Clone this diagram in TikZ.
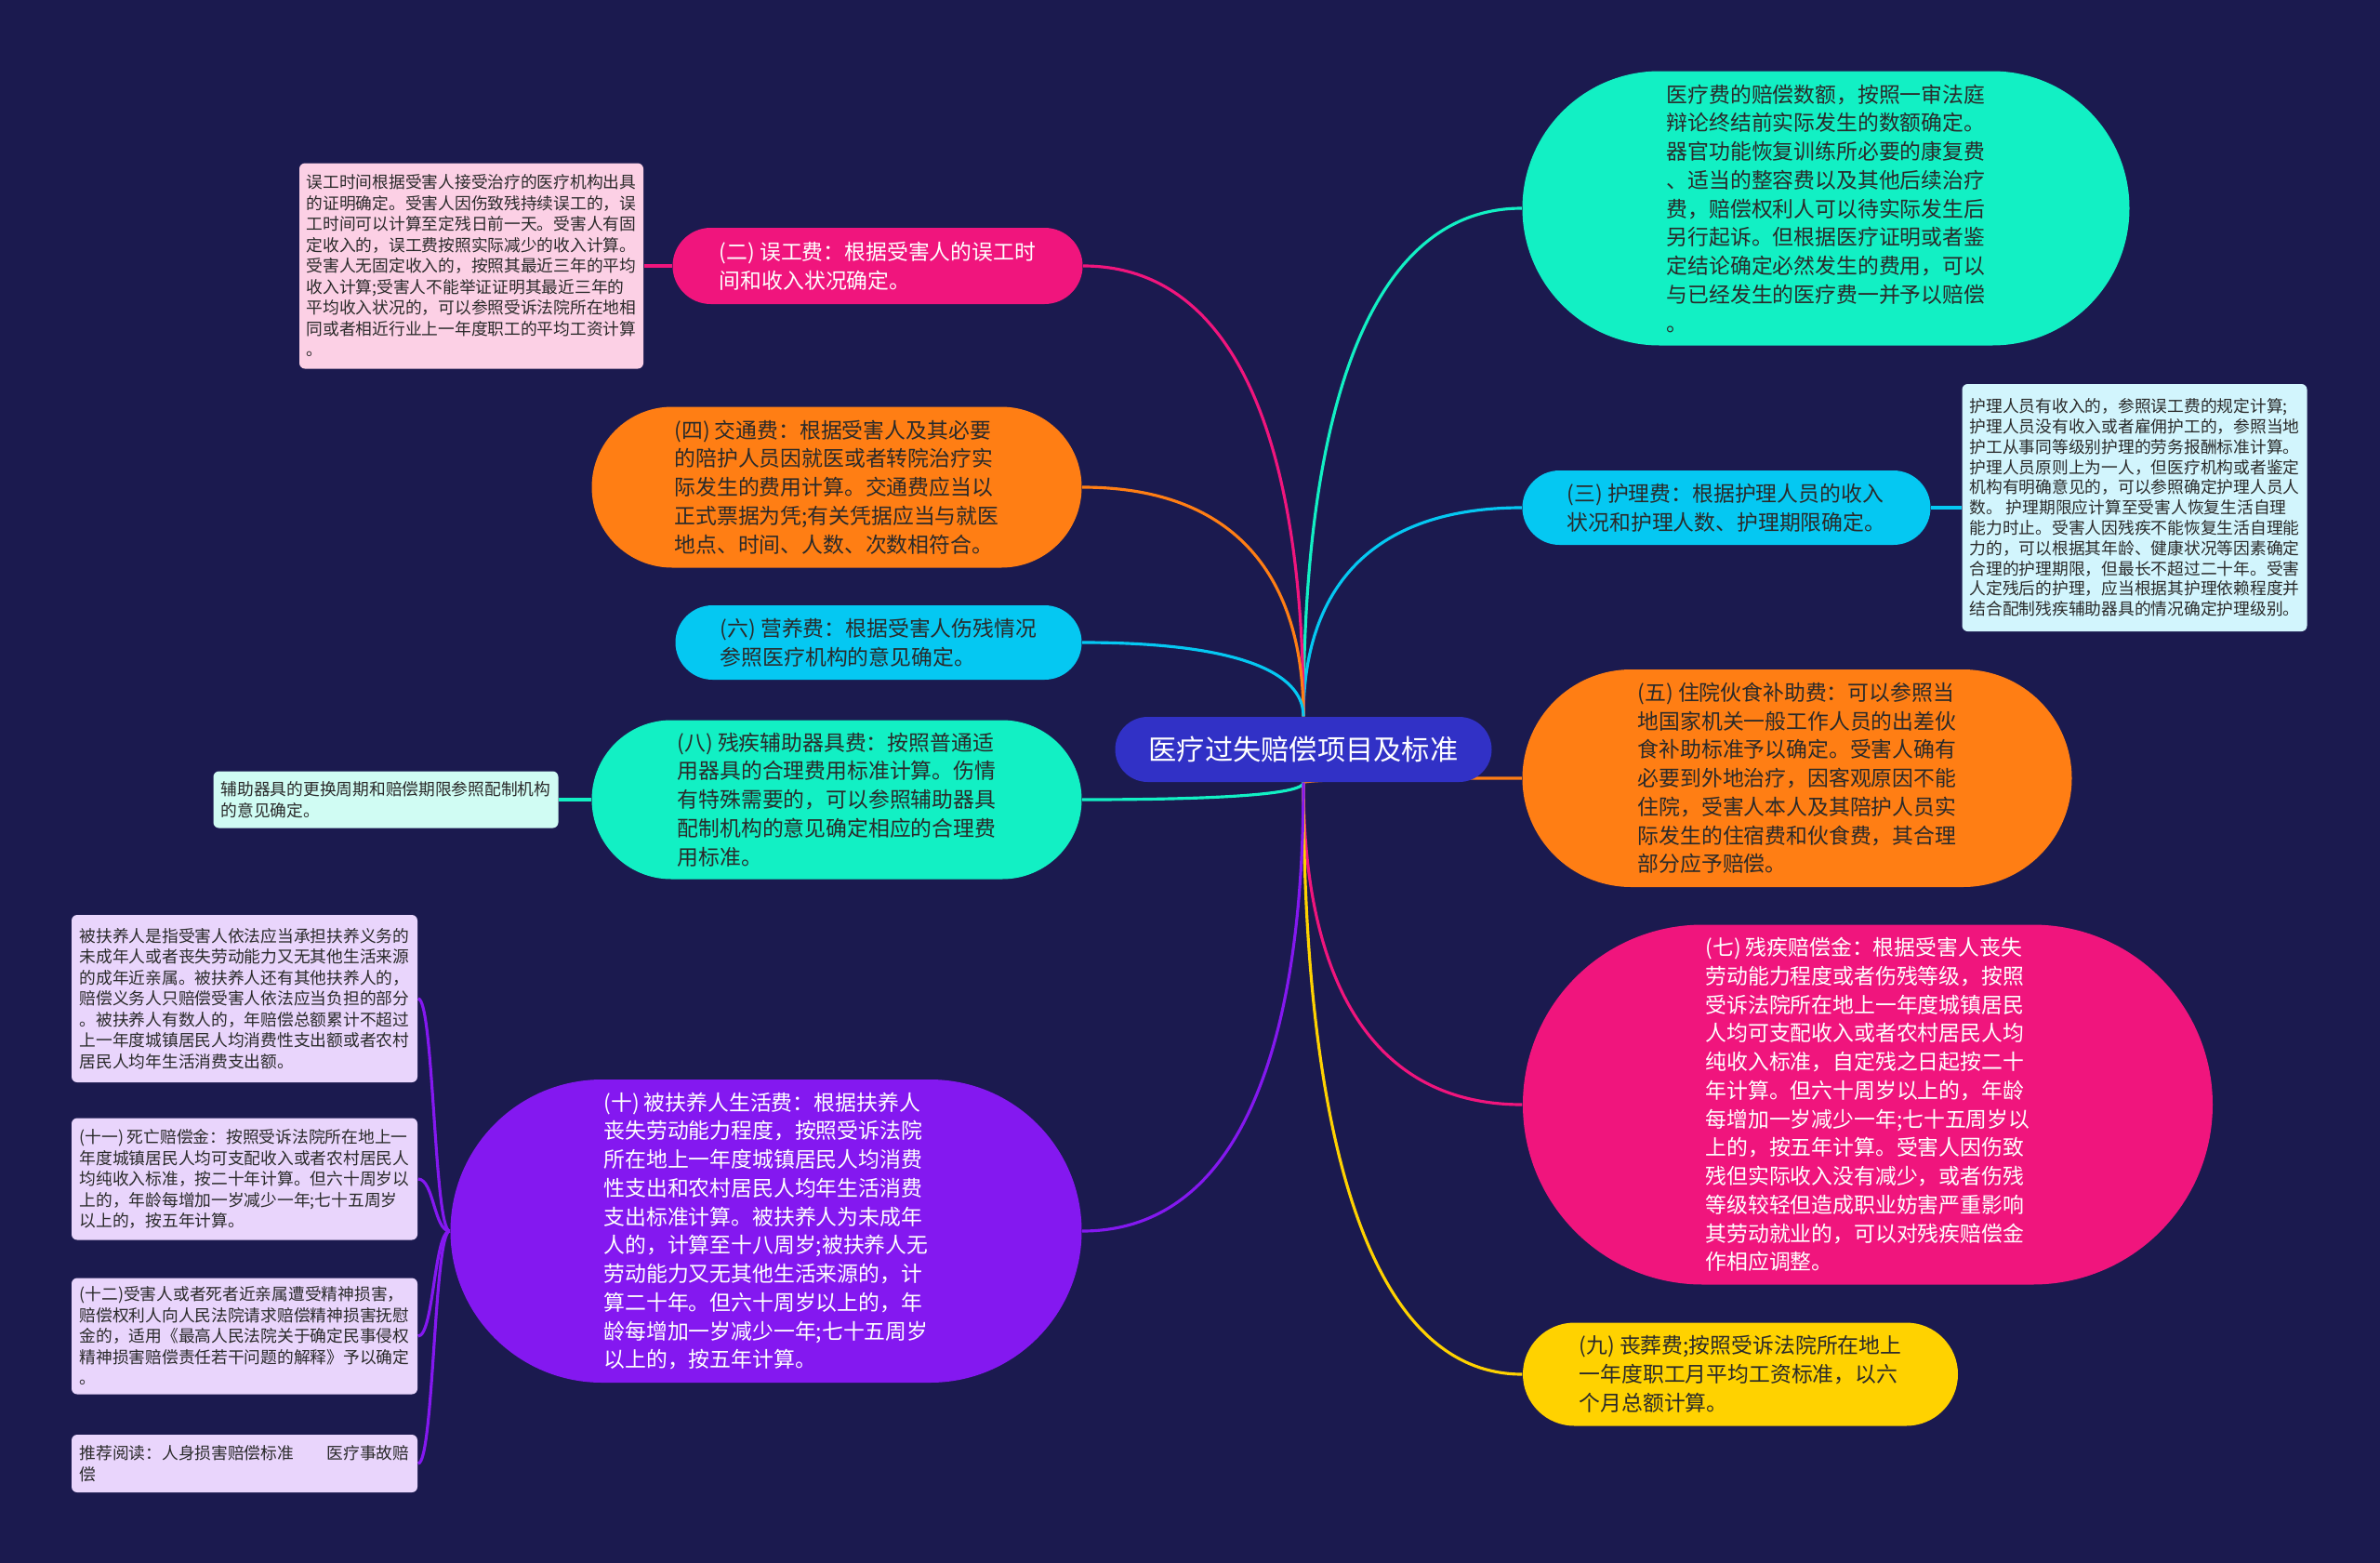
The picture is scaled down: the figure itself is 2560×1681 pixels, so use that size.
\documentclass[tikz,border=0pt]{standalone}
\usepackage{fontspec}
\setmainfont{Noto Sans CJK SC}
\usepackage{tikz}
\usetikzlibrary{calc,backgrounds}
\definecolor{MapNavy}{HTML}{1B1A4F}
\definecolor{MapBlue}{HTML}{3131C6}
\definecolor{MapTeal}{HTML}{12F0C4}
\definecolor{MapPink}{HTML}{F0157D}
\definecolor{MapOrange}{HTML}{FF7E14}
\definecolor{MapSky}{HTML}{05C8F2}
\definecolor{MapYellow}{HTML}{FFD200}
\definecolor{MapPurple}{HTML}{8418F0}
\definecolor{MapInk}{HTML}{2A2A2A}
\tikzset{
  pill/.style 2 args={minimum width=#1, minimum height=#2, rounded corners=#2/2,
    align=left, inner sep=2pt, font=\fontsize{6.5pt}{8.75pt}\selectfont},
  hub/.style={pill={40.5mm}{7mm}, fill=MapBlue, text=white,
    font=\fontsize{8.6pt}{10pt}\selectfont},
  tealitem/.style={fill=MapTeal, text=MapInk},
  pinkitem/.style={fill=MapPink, text=white},
  orangeitem/.style={fill=MapOrange, text=MapInk},
  skyitem/.style={fill=MapSky, text=MapInk},
  yellowitem/.style={fill=MapYellow, text=MapInk},
  purpleitem/.style={fill=MapPurple, text=white},
  leaf/.style 2 args={minimum width=#1, minimum height=#2, rounded corners=0.6mm,
    align=left, inner sep=1.5pt, text=MapInk, font=\fontsize{5.05pt}{6.4pt}\selectfont},
  link/.style={draw=#1, line width=0.9pt}
}

\begin{document}
\begin{tikzpicture}[x=0.1mm, y=-0.1mm]
  \useasboundingbox (0,0) rectangle (2560,1681);
  \begin{scope}[on background layer]
    \fill[MapNavy] (0,0) rectangle (2560,1681);
  \end{scope}

  \node[hub] (cen) at (1402,806) {医疗过失赔偿项目及标准};

  % right side
  \node[pill={65.3mm}{29.5mm}, tealitem] (fee) at (1964,224)
    {医疗费的赔偿数额，按照一审法庭\\辩论终结前实际发生的数额确定。\\器官功能恢复训练所必要的康复费\\、适当的整容费以及其他后续治疗\\费，赔偿权利人可以待实际发生后\\另行起诉。但根据医疗证明或者鉴\\定结论确定必然发生的费用，可以\\与已经发生的医疗费一并予以赔偿\\。};
  \node[pill={43.9mm}{8mm}, skyitem] (nurse) at (1857,546)
    {(三) 护理费：根据护理人员的收入\\状况和护理人数、护理期限确定。};
  \node[leaf={37.1mm}{26.6mm}, fill=MapSky!18!white, font=\fontsize{5.05pt}{6.2pt}\selectfont] (nurseleaf) at (2296,546)
    {护理人员有收入的，参照误工费的规定计算;\\护理人员没有收入或者雇佣护工的，参照当地\\护工从事同等级别护理的劳务报酬标准计算。\\护理人员原则上为一人，但医疗机构或者鉴定\\机构有明确意见的，可以参照确定护理人员人\\数。 护理期限应计算至受害人恢复生活自理\\能力时止。受害人因残疾不能恢复生活自理能\\力的，可以根据其年龄、健康状况等因素确定\\合理的护理期限，但最长不超过二十年。受害\\人定残后的护理，应当根据其护理依赖程度并\\结合配制残疾辅助器具的情况确定护理级别。};
  \node[pill={59.1mm}{23.4mm}, orangeitem] (meal) at (1933,837)
    {(五) 住院伙食补助费：可以参照当\\地国家机关一般工作人员的出差伙\\食补助标准予以确定。受害人确有\\必要到外地治疗，因客观原因不能\\住院，受害人本人及其陪护人员实\\际发生的住宿费和伙食费，其合理\\部分应予赔偿。};
  \node[pill={74.2mm}{38.7mm}, pinkitem] (disab) at (2009,1188)
    {(七) 残疾赔偿金：根据受害人丧失\\劳动能力程度或者伤残等级，按照\\受诉法院所在地上一年度城镇居民\\人均可支配收入或者农村居民人均\\纯收入标准，自定残之日起按二十\\年计算。但六十周岁以上的，年龄\\每增加一岁减少一年;七十五周岁以\\上的，按五年计算。受害人因伤致\\残但实际收入没有减少，或者伤残\\等级较轻但造成职业妨害严重影响\\其劳动就业的，可以对残疾赔偿金\\作相应调整。};
  \node[pill={46.8mm}{11.1mm}, yellowitem] (funeral) at (1872,1478)
    {(九) 丧葬费;按照受诉法院所在地上\\一年度职工月平均工资标准，以六\\个月总额计算。};

  % left side
  \node[pill={44.1mm}{8.2mm}, pinkitem] (work) at (944,286)
    {(二) 误工费：根据受害人的误工时\\间和收入状况确定。};
  \node[leaf={37mm}{22.1mm}, fill=MapPink!20!white] (workleaf) at (507,286)
    {误工时间根据受害人接受治疗的医疗机构出具\\的证明确定。受害人因伤致残持续误工的，误\\工时间可以计算至定残日前一天。受害人有固\\定收入的，误工费按照实际减少的收入计算。\\受害人无固定收入的，按照其最近三年的平均\\收入计算;受害人不能举证证明其最近三年的\\平均收入状况的，可以参照受诉法院所在地相\\同或者相近行业上一年度职工的平均工资计算\\。};
  \node[pill={52.7mm}{17.3mm}, orangeitem] (traffic) at (900,524)
    {(四) 交通费：根据受害人及其必要\\的陪护人员因就医或者转院治疗实\\际发生的费用计算。交通费应当以\\正式票据为凭;有关凭据应当与就医\\地点、时间、人数、次数相符合。};
  \node[pill={43.7mm}{8mm}, skyitem] (food) at (945,691)
    {(六) 营养费：根据受害人伤残情况\\参照医疗机构的意见确定。};
  \node[pill={52.7mm}{17.1mm}, tealitem] (device) at (900,860)
    {(八) 残疾辅助器具费：按照普通适\\用器具的合理费用标准计算。伤情\\有特殊需要的，可以参照辅助器具\\配制机构的意见确定相应的合理费\\用标准。};
  \node[leaf={37.1mm}{6.1mm}, fill=MapTeal!20!white] (deviceleaf) at (415,860)
    {辅助器具的更换周期和赔偿期限参照配制机构\\的意见确定。};
  \node[pill={67.9mm}{32.6mm}, purpleitem] (support) at (824,1324)
    {(十) 被扶养人生活费：根据扶养人\\丧失劳动能力程度，按照受诉法院\\所在地上一年度城镇居民人均消费\\性支出和农村居民人均年生活消费\\支出标准计算。被扶养人为未成年\\人的，计算至十八周岁;被扶养人无\\劳动能力又无其他生活来源的，计\\算二十年。但六十周岁以上的，年\\龄每增加一岁减少一年;七十五周岁\\以上的，按五年计算。};
  \node[leaf={37.2mm}{18mm}, fill=MapPurple!18!white] (dependant) at (263,1074)
    {被扶养人是指受害人依法应当承担扶养义务的\\未成年人或者丧失劳动能力又无其他生活来源\\的成年近亲属。被扶养人还有其他扶养人的，\\赔偿义务人只赔偿受害人依法应当负担的部分\\。被扶养人有数人的，年赔偿总额累计不超过\\上一年度城镇居民人均消费性支出额或者农村\\居民人均年生活消费支出额。};
  \node[leaf={37.2mm}{13.1mm}, fill=MapPurple!18!white] (death) at (263,1268)
    {(十一) 死亡赔偿金：按照受诉法院所在地上一\\年度城镇居民人均可支配收入或者农村居民人\\均纯收入标准，按二十年计算。但六十周岁以\\上的，年龄每增加一岁减少一年;七十五周岁\\以上的，按五年计算。};
  \node[leaf={37.2mm}{12.5mm}, fill=MapPurple!18!white] (mental) at (263,1437)
    {(十二)受害人或者死者近亲属遭受精神损害，\\赔偿权利人向人民法院请求赔偿精神损害抚慰\\金的，适用《最高人民法院关于确定民事侵权\\精神损害赔偿责任若干问题的解释》予以确定\\。};
  \node[leaf={37.2mm}{6.2mm}, fill=MapPurple!18!white] (reading) at (263,1574)
    {推荐阅读：人身损害赔偿标准\hspace{2em}医疗事故赔\\偿};

  \begin{scope}[on background layer]
    \foreach \tgt/\col/\from/\side in {fee/MapTeal/north/west, nurse/MapSky/north/west,
        meal/MapOrange/south/west, disab/MapPink/south/west, funeral/MapYellow/south/west,
        work/MapPink/north/east, traffic/MapOrange/north/east, food/MapSky/north/east,
        device/MapTeal/south/east, support/MapPurple/south/east}
      \draw[link=\col] (cen.\from) .. controls ($(cen.\from)!0.6!(cen.\from |- \tgt.\side)$)
        and ($(\tgt.\side)!0.7!(cen.\from |- \tgt.\side)$) .. (\tgt.\side);
    \draw[link=MapPink] (work.west) -- (workleaf.east);
    \draw[link=MapSky] (nurse.east) -- (nurseleaf.west);
    \draw[link=MapTeal] (device.west) -- (deviceleaf.east);
    \foreach \tgt in {dependant, death, mental, reading}
      \draw[link=MapPurple] (support.west) .. controls ($(support.west)!0.5!(support.west -| \tgt.east)$)
        and ($(\tgt.east)!0.5!(\tgt.east -| support.west)$) .. (\tgt.east);
  \end{scope}
\end{tikzpicture}
\end{document}
